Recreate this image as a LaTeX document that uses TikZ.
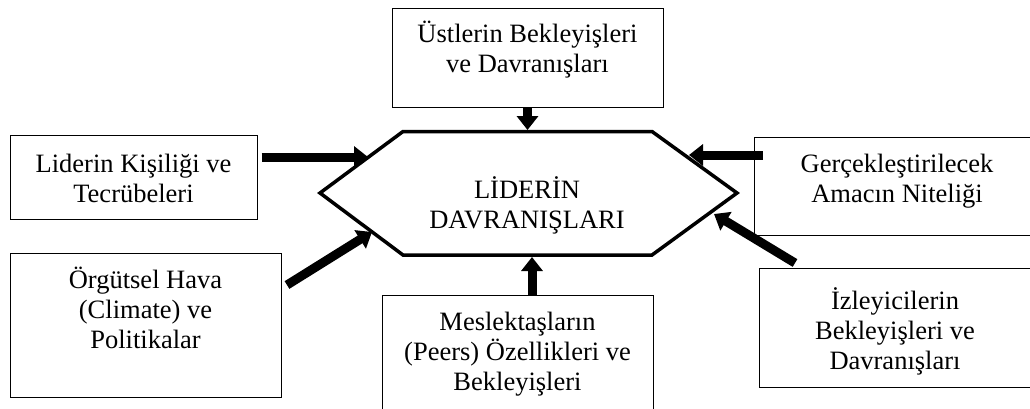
\documentclass[tikz,border=0pt]{standalone}
\usepackage{fontspec}
\setmainfont{Liberation Serif}
\usetikzlibrary{arrows.meta,calc}
\begin{document}
\begin{tikzpicture}[x=1pt,y=-1pt,
  box/.style={draw=black,line width=1pt,rectangle,inner sep=0pt},
  lbl/.style={align=center,inner sep=0pt,anchor=base,font=\fontsize{26.5}{30}\selectfont},
  inarrow/.style={line width=9pt,-{Triangle[length=14pt,width=21pt]}},
  hexline/.style={line width=3.5pt,line join=miter}]
\useasboundingbox (0,0) rectangle (1030,408);
\clip (0,0) rectangle (1030,408);

% boxes
\node[box,minimum width=271pt,minimum height=99pt]  (top) at (527.5,57.5) {};
\node[box,minimum width=247pt,minimum height=84pt]  (L1)  at (133.5,177) {};
\node[box,minimum width=271pt,minimum height=144pt] (L2)  at (145.5,325) {};
\node[box,minimum width=271pt,minimum height=125pt] (B)   at (517.5,357.5) {};
\node[box,minimum width=286pt,minimum height=98pt]  (R1)  at (897,186) {};
\node[box,minimum width=274pt,minimum height=119pt] (R2)  at (896,327.5) {};

% labels (anchor = baseline of the last line)
\node[lbl] (topt) at (527.5,72.5) {Üstlerin Bekleyişleri\\ve Davranışları};
\node[lbl] (L1t)  at (133.5,202) {Liderin Kişiliği ve\\Tecrübeleri};
\node[lbl] (L2t)  at (145.5,348) {Örgütsel Hava\\(Climate) ve\\Politikalar};
\node[lbl] (Bt)   at (517.5,390) {Meslektaşların\\(Peers) Özellikleri ve\\Bekleyişleri};
\node[lbl] (R1t)  at (897,202) {Gerçekleştirilecek\\Amacın Niteliği};
\node[lbl] (R2t)  at (895,369.5) {İzleyicilerin\\Bekleyişleri ve\\Davranışları};

% central hexagon
\coordinate (h1) at (403,131.5);
\coordinate (h2) at (652,131.5);
\coordinate (h3) at (737,193);
\coordinate (h4) at (652,255);
\coordinate (h5) at (403,255);
\coordinate (h6) at (320,193);
\draw[hexline] (h1) -- (h2) -- (h3) -- (h4) -- (h5) -- (h6) -- cycle;
\node[lbl] (hext) at (527,228) {LİDERİN\\DAVRANIŞLARI};

% arrow tips on the hexagon
\coordinate (t1) at (368,157);
\coordinate (t2) at (372,232);
\coordinate (t3) at (527.5,130);
\coordinate (t4) at (532,257);
\coordinate (t5) at (689,155);
\coordinate (t6) at (714,214);
\coordinate (s2) at (287,285);
\coordinate (s6) at (795,263);

\draw[inarrow] ([xshift=4pt]L1.east |- t1) -- (t1);
\draw[inarrow] (s2) -- (t2);
\draw[inarrow] (top.south) -- (t3);
\draw[inarrow] (t4 |- B.north) -- (t4);
\draw[inarrow] ([xshift=9pt]R1.west |- t5) -- (t5);
\draw[inarrow] (s6) -- (t6);
\end{tikzpicture}
\end{document}
